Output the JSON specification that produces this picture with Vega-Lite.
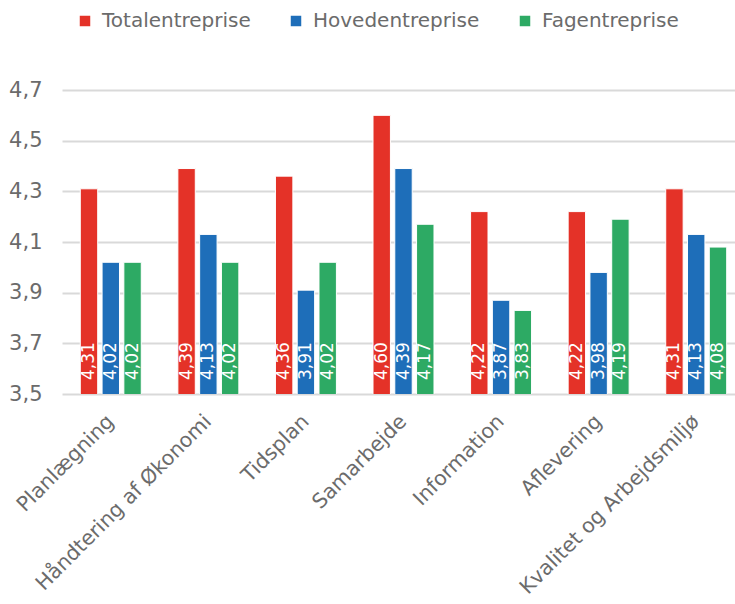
{
  "$schema": "https://vega.github.io/schema/vega-lite/v6.json",
  "width": 673,
  "height": 304,
  "autosize": {"type": "none"},
  "padding": {"left": 62, "top": 90, "right": 0, "bottom": 210},
  "background": "white",
  "config": {
    "locale": {"number": {"decimal": ",", "thousands": ".", "grouping": [3], "currency": ["", " kr."]}},
    "font": "DejaVu Sans",
    "view": {"stroke": null}
  },
  "data": {
    "values": [
      {"kategori": "Planlægning", "serie": "Totalentreprise", "v": 4.31},
      {"kategori": "Planlægning", "serie": "Hovedentreprise", "v": 4.02},
      {"kategori": "Planlægning", "serie": "Fagentreprise", "v": 4.02},
      {"kategori": "Håndtering af Økonomi", "serie": "Totalentreprise", "v": 4.39},
      {"kategori": "Håndtering af Økonomi", "serie": "Hovedentreprise", "v": 4.13},
      {"kategori": "Håndtering af Økonomi", "serie": "Fagentreprise", "v": 4.02},
      {"kategori": "Tidsplan", "serie": "Totalentreprise", "v": 4.36},
      {"kategori": "Tidsplan", "serie": "Hovedentreprise", "v": 3.91},
      {"kategori": "Tidsplan", "serie": "Fagentreprise", "v": 4.02},
      {"kategori": "Samarbejde", "serie": "Totalentreprise", "v": 4.60},
      {"kategori": "Samarbejde", "serie": "Hovedentreprise", "v": 4.39},
      {"kategori": "Samarbejde", "serie": "Fagentreprise", "v": 4.17},
      {"kategori": "Information", "serie": "Totalentreprise", "v": 4.22},
      {"kategori": "Information", "serie": "Hovedentreprise", "v": 3.87},
      {"kategori": "Information", "serie": "Fagentreprise", "v": 3.83},
      {"kategori": "Aflevering", "serie": "Totalentreprise", "v": 4.22},
      {"kategori": "Aflevering", "serie": "Hovedentreprise", "v": 3.98},
      {"kategori": "Aflevering", "serie": "Fagentreprise", "v": 4.19},
      {"kategori": "Kvalitet og Arbejdsmiljø", "serie": "Totalentreprise", "v": 4.31},
      {"kategori": "Kvalitet og Arbejdsmiljø", "serie": "Hovedentreprise", "v": 4.13},
      {"kategori": "Kvalitet og Arbejdsmiljø", "serie": "Fagentreprise", "v": 4.08}
    ]
  },
  "encoding": {
    "x": {
      "field": "kategori",
      "type": "nominal",
      "sort": null,
      "scale": {"range": [0, 683], "paddingInner": 0.375, "paddingOuter": 0.1875},
      "axis": {
        "title": null,
        "labelAngle": -45,
        "labelBaseline": "middle",
        "labelAlign": "right",
        "labelFontSize": 20.5,
        "labelFontWeight": 400,
        "labelColor": "#6b6b6b",
        "labelPadding": 24,
        "labelDx": 3,
        "domain": false,
        "ticks": false,
        "labelLimit": 400
      }
    },
    "xOffset": {
      "field": "serie",
      "type": "nominal",
      "sort": ["Totalentreprise", "Hovedentreprise", "Fagentreprise"],
      "scale": {"paddingInner": 0.2, "paddingOuter": 0}
    }
  },
  "layer": [
    {
      "mark": {"type": "bar", "stroke": "white", "strokeWidth": 1, "clip": true},
      "encoding": {
        "y": {
          "field": "v",
          "type": "quantitative",
          "scale": {"domain": [3.5, 4.7], "zero": false, "nice": false},
          "axis": {
            "title": null,
            "values": [3.5, 3.7, 3.9, 4.1, 4.3, 4.5, 4.7],
            "format": ".1f",
            "labelFontSize": 21,
            "labelFontWeight": 400,
            "labelColor": "#6b6b6b",
            "labelPadding": 20,
            "domain": false,
            "ticks": false,
            "gridColor": "#d9d9d9",
            "gridWidth": 2
          }
        },
        "color": {
          "field": "serie",
          "type": "nominal",
          "sort": ["Totalentreprise", "Hovedentreprise", "Fagentreprise"],
          "scale": {"domain": ["Totalentreprise", "Hovedentreprise", "Fagentreprise"], "range": ["#E43228", "#1E6EB9", "#2DAA64"]},
          "legend": {
            "title": null,
            "orient": "none",
            "legendX": 13,
            "legendY": -79,
            "direction": "horizontal",
            "columns": 3,
            "columnPadding": 35,
            "symbolType": "square",
            "symbolSize": 110,
            "symbolStrokeWidth": 0,
            "labelFontSize": 20,
            "labelFontWeight": 400,
            "labelColor": "#6b6b6b",
            "labelOffset": 7,
            "labelLimit": 300
          }
        }
      }
    },
    {
      "mark": {"type": "text", "angle": 270, "align": "left", "baseline": "middle", "dx": 14, "fontSize": 17, "fontWeight": 400, "color": "white"},
      "encoding": {
        "y": {"datum": 3.5, "type": "quantitative"},
        "text": {"field": "v", "type": "quantitative", "format": ".2f"}
      }
    }
  ]
}
